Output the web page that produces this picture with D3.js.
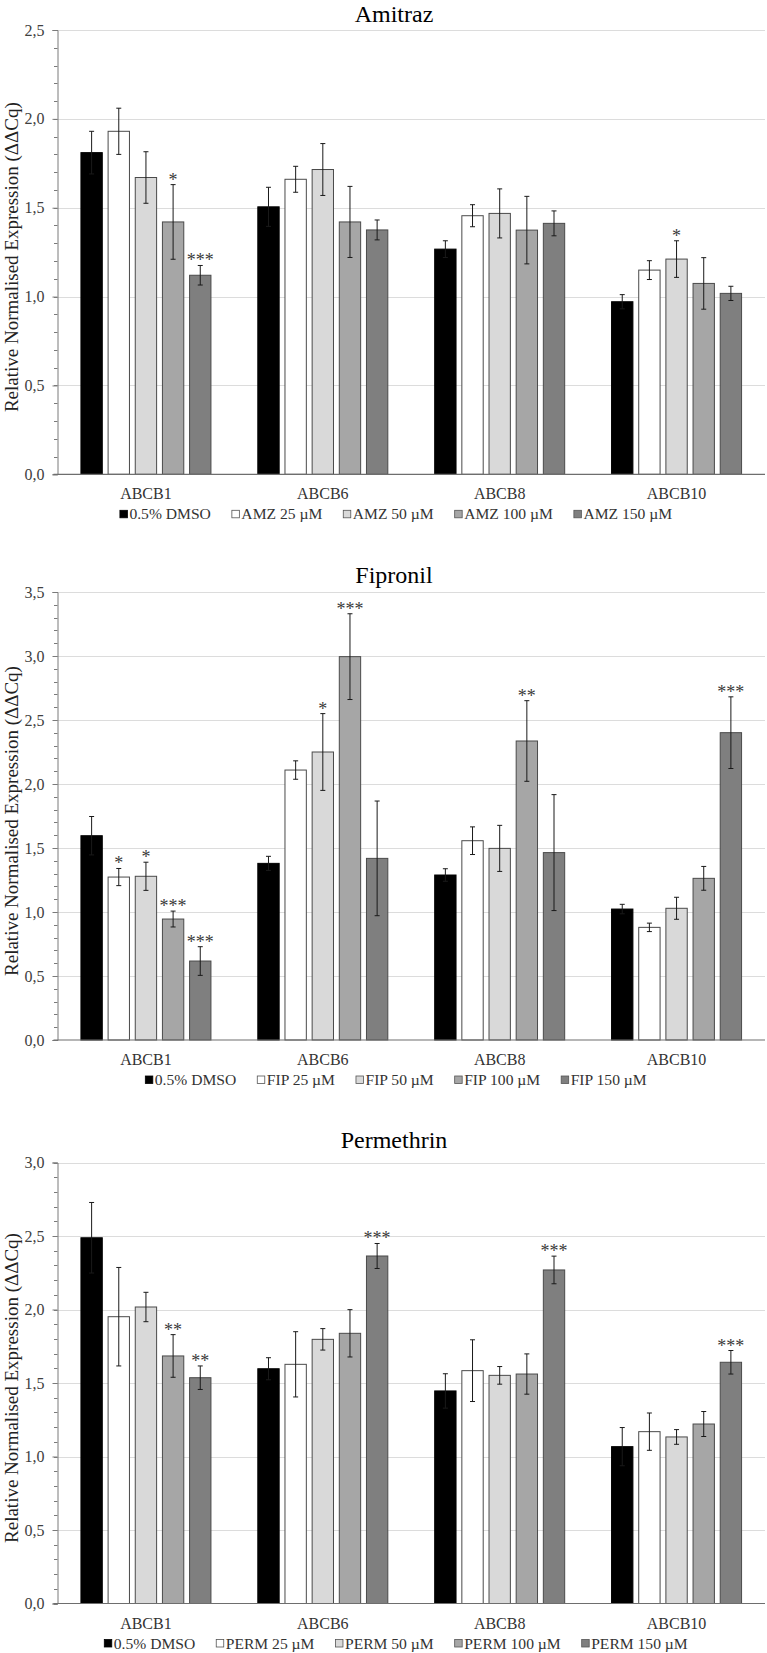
<!DOCTYPE html>
<html>
<head>
<meta charset="utf-8">
<script src="https://cdn.jsdelivr.net/npm/d3@7"></script>
<style>
  html, body { margin: 0; padding: 0; background: #fff; }
  svg { display: block; }
</style>
</head>
<body>
<svg id="chart" width="767" height="1653"></svg>
<script>
// ---------------- DATA ----------------
const categories = ["ABCB1", "ABCB6", "ABCB8", "ABCB10"];

const amzTitle = "Amitraz";
const amzLegend = ["0.5% DMSO", "AMZ 25 µM", "AMZ 50 µM", "AMZ 100 µM", "AMZ 150 µM"];
const amzTicks = [0, 0.5, 1.0, 1.5, 2.0, 2.5];
const amzValues = [
  [1.81, 1.93, 1.67, 1.42, 1.12],
  [1.505, 1.66, 1.715, 1.42, 1.375],
  [1.267, 1.455, 1.468, 1.374, 1.412],
  [0.971, 1.149, 1.211, 1.074, 1.018]
];
const amzErrors = [
  [0.12, 0.13, 0.145, 0.21, 0.055],
  [0.11, 0.073, 0.146, 0.2, 0.056],
  [0.047, 0.062, 0.138, 0.19, 0.07],
  [0.04, 0.053, 0.103, 0.145, 0.04]
];
const amzStars = [
  ["", "", "", "*", "***"],
  ["", "", "", "", ""],
  ["", "", "", "", ""],
  ["", "", "*", "", ""]
];

const fipTitle = "Fipronil";
const fipLegend = ["0.5% DMSO", "FIP 25 µM", "FIP 50 µM", "FIP 100 µM", "FIP 150 µM"];
const fipTicks = [0, 0.5, 1.0, 1.5, 2.0, 2.5, 3.0, 3.5];
const fipValues = [
  [1.596, 1.273, 1.279, 0.945, 0.617],
  [1.38, 2.109, 2.25, 2.995, 1.419],
  [1.289, 1.557, 1.497, 2.336, 1.464],
  [1.023, 0.88, 1.029, 1.263, 2.401]
];
const fipErrors = [
  [0.15, 0.067, 0.11, 0.062, 0.112],
  [0.055, 0.072, 0.3, 0.335, 0.448],
  [0.049, 0.108, 0.18, 0.315, 0.453],
  [0.037, 0.033, 0.086, 0.093, 0.28]
];
const fipStars = [
  ["", "*", "*", "***", "***"],
  ["", "", "*", "***", ""],
  ["", "", "", "**", ""],
  ["", "", "", "", "***"]
];

const permTitle = "Permethrin";
const permLegend = ["0.5% DMSO", "PERM 25 µM", "PERM 50 µM", "PERM 100 µM", "PERM 150 µM"];
const permTicks = [0, 0.5, 1.0, 1.5, 2.0, 2.5, 3.0];
const permValues = [
  [2.488, 1.951, 2.017, 1.684, 1.536],
  [1.597, 1.627, 1.797, 1.838, 2.364],
  [1.446, 1.584, 1.552, 1.561, 2.269],
  [1.067, 1.169, 1.133, 1.221, 1.641]
];
const permErrors = [
  [0.24, 0.335, 0.1, 0.145, 0.08],
  [0.075, 0.222, 0.073, 0.161, 0.085],
  [0.117, 0.21, 0.06, 0.137, 0.094],
  [0.13, 0.127, 0.05, 0.085, 0.08]
];
const permStars = [
  ["", "", "", "**", "**"],
  ["", "", "", "", "***"],
  ["", "", "", "", "***"],
  ["", "", "", "", "***"]
];

const yLabel = "Relative Normalised Expression (ΔΔCq)";
const barColors = ["#000000", "#ffffff", "#d9d9d9", "#a6a6a6", "#7f7f7f"];

// ---------------- DRAW ----------------
const FONT = "'Liberation Serif'";
const svg = d3.select("#chart");
const fmt = d => d3.format(".1f")(d).replace(".", ",");

function drawPanel(cfg) {
  const { title, legend, ticks, values, errors, stars, top, bottom, titleY } = cfg;
  const left = 57.5, right = 765;
  const g = svg.append("g");
  const ymax = ticks[ticks.length - 1];
  const y = d3.scaleLinear().domain([0, ymax]).range([bottom, top]);
  const x0 = d3.scaleBand().domain(categories).range([left, right])
    .paddingInner(0.265).paddingOuter(0.1325);
  const x1 = d3.scaleBand().domain(d3.range(legend.length)).range([0, x0.bandwidth()])
    .paddingInner(0.214).paddingOuter(0);

  // gridlines
  g.append("g").selectAll("line").data(ticks.filter(t => t > 0)).join("line")
    .attr("x1", left).attr("x2", right)
    .attr("y1", d => Math.round(y(d)) + 0.5).attr("y2", d => Math.round(y(d)) + 0.5)
    .attr("stroke", "#dcdcdc").attr("stroke-width", 1.2);

  // minor ticks
  const minor = d3.range(0, ymax + 1e-6, 0.1);
  g.append("g").selectAll("line").data(minor).join("line")
    .attr("x1", left - 3.5).attr("x2", left)
    .attr("y1", d => Math.round(y(d)) + 0.5).attr("y2", d => Math.round(y(d)) + 0.5)
    .attr("stroke", "#7a7a7a").attr("stroke-width", 1);

  // y axis
  const yAxis = d3.axisLeft(y).tickValues(ticks).tickFormat(fmt).tickSize(5).tickPadding(8);
  const ya = g.append("g").attr("transform", `translate(${left},0)`).call(yAxis);
  ya.attr("font-family", null);
  ya.select(".domain").attr("stroke", "#7a7a7a");
  ya.selectAll(".tick line").attr("stroke", "#7a7a7a");
  ya.selectAll(".tick text").style("font-family", FONT)
    .attr("font-size", 16).attr("fill", "#404040");

  // bars
  const groups = g.append("g").selectAll("g").data(categories).join("g")
    .attr("transform", c => `translate(${x0(c)},0)`);
  groups.each(function (c, ci) {
    const gg = d3.select(this);
    const row = values[ci].map((v, si) => ({ v, si, e: errors[ci][si], s: stars[ci][si] }));
    gg.selectAll("rect").data(row).join("rect")
      .attr("x", d => x1(d.si)).attr("width", x1.bandwidth())
      .attr("y", d => y(d.v)).attr("height", d => y(0) - y(d.v))
      .attr("fill", d => barColors[d.si])
      .attr("stroke", d => d.si === 0 ? "#000" : "#4a4a4a").attr("stroke-width", 1);
    const eb = gg.selectAll("g.eb").data(row).join("g").attr("class", "eb");
    const cx = d => x1(d.si) + x1.bandwidth() / 2;
    eb.append("line").attr("x1", cx).attr("x2", cx)
      .attr("y1", d => y(d.v + d.e)).attr("y2", d => y(d.v - d.e))
      .attr("stroke", "#1a1a1a").attr("stroke-width", 1);
    eb.append("line").attr("x1", d => cx(d) - 2.5).attr("x2", d => cx(d) + 2.5)
      .attr("y1", d => y(d.v + d.e)).attr("y2", d => y(d.v + d.e))
      .attr("stroke", "#1a1a1a").attr("stroke-width", 1);
    eb.append("line").attr("x1", d => cx(d) - 2.5).attr("x2", d => cx(d) + 2.5)
      .attr("y1", d => y(d.v - d.e)).attr("y2", d => y(d.v - d.e))
      .attr("stroke", "#1a1a1a").attr("stroke-width", 1);
    gg.selectAll("text.star").data(row.filter(d => d.s)).join("text").attr("class", "star")
      .attr("x", cx).attr("y", d => y(d.v + d.e) + 1)
      .attr("text-anchor", "middle").attr("font-size", 18).attr("fill", "#3a3a3a")
      .style("font-family", FONT)
      .text(d => d.s);
  });

  // x axis baseline
  g.append("line").attr("x1", left - 4).attr("x2", right)
    .attr("y1", y(0)).attr("y2", y(0)).attr("stroke", "#6e6e6e").attr("stroke-width", 1.2);

  // category labels
  g.append("g").selectAll("text").data(categories).join("text")
    .attr("x", c => x0(c) + x0.bandwidth() / 2).attr("y", y(0) + 25)
    .attr("text-anchor", "middle").attr("font-size", 16).attr("fill", "#333")
    .style("font-family", FONT)
    .text(c => c);

  // title
  g.append("text").attr("x", 394).attr("y", titleY).attr("text-anchor", "middle")
    .attr("font-size", 24).attr("fill", "#000").style("font-family", FONT).text(title);

  // y label
  g.append("text")
    .attr("transform", `translate(17.5,${(top + bottom) / 2 + 5}) rotate(-90)`)
    .attr("text-anchor", "middle").attr("font-size", 19).attr("fill", "#222")
    .style("font-family", FONT)
    .text(yLabel);

  // legend
  const ly = y(0) + 39.5;
  const lg = g.append("g");
  const items = lg.selectAll("g").data(legend).join("g");
  items.append("rect").attr("width", 7.5).attr("height", 7.5).attr("y", ly - 3.5)
    .attr("fill", (d, i) => barColors[i]).attr("stroke", (d, i) => i === 0 ? "#000" : "#555")
    .attr("stroke-width", 0.8);
  items.append("text").attr("x", 9.5).attr("y", ly + 5.5).attr("font-size", 15.6).attr("fill", "#333")
    .style("font-family", FONT)
    .text(d => d);
  const widths = [];
  items.each(function () { widths.push(9.5 + d3.select(this).select("text").node().getComputedTextLength()); });
  const gap = 21;
  const total = d3.sum(widths) + gap * (widths.length - 1);
  let start = 396 - total / 2;
  items.attr("transform", (d, i) => {
    const t = `translate(${start},0)`;
    start += widths[i] + gap;
    return t;
  });
}

drawPanel({ title: amzTitle, legend: amzLegend, ticks: amzTicks, values: amzValues,
  errors: amzErrors, stars: amzStars, top: 30, bottom: 474.3, titleY: 21.5 });
drawPanel({ title: fipTitle, legend: fipLegend, ticks: fipTicks, values: fipValues,
  errors: fipErrors, stars: fipStars, top: 592, bottom: 1040, titleY: 583 });
drawPanel({ title: permTitle, legend: permLegend, ticks: permTicks, values: permValues,
  errors: permErrors, stars: permStars, top: 1162.5, bottom: 1603.5, titleY: 1147.5 });
</script>
</body>
</html>
